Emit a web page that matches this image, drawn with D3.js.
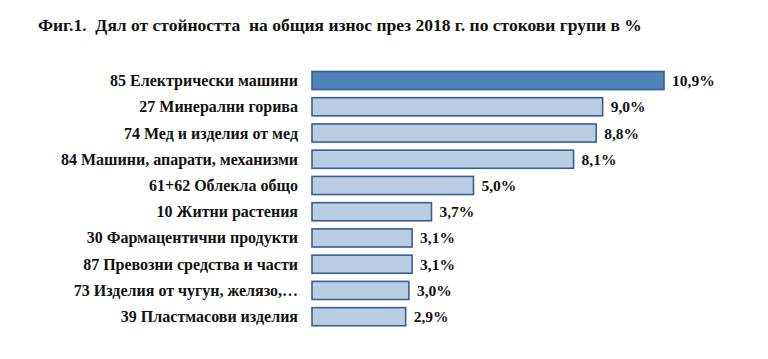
<!DOCTYPE html>
<html><head><meta charset="utf-8">
<script src="https://cdn.jsdelivr.net/npm/d3@7"></script>
<style>body{margin:0;background:#fff}svg{display:block}text{white-space:pre;font-family:"Liberation Serif","Times New Roman",serif;font-weight:bold}</style>
</head><body>
<script>
const title = "Фиг.1.  Дял от стойността  на общия износ през 2018 г. по стокови групи в %";
const categories = ["85 Електрически машини","27 Минерални горива","74 Мед и изделия от мед","84 Машини, апарати, механизми","61+62 Облекла общо","10 Житни растения","30 Фармацентични продукти","87 Превозни средства и части","73 Изделия от чугун, желязо,…","39 Пластмасови изделия"];
const values = [10.9, 9.0, 8.8, 8.1, 5.0, 3.7, 3.1, 3.1, 3.0, 2.9];
const valueLabels = ["10,9%","9,0%","8,8%","8,1%","5,0%","3,7%","3,1%","3,1%","3,0%","2,9%"];

const W = 768, H = 359;
const svg = d3.select("body").append("svg").attr("width", W).attr("height", H);

svg.append("text").attr("x", 38).attr("y", 31)
  .style("font-size", "17.5px").attr("fill", "#111").text(title);

const x0 = 312;
const x = d3.scaleLinear().domain([0, 10.9]).range([x0, 664]);
const y = d3.scaleBand().domain(categories).range([67.4, 329.8]).paddingInner(0.31).paddingOuter(0.155);

const g = svg.append("g");
g.selectAll("rect").data(categories).join("rect")
  .attr("x", x(0)).attr("y", d => y(d))
  .attr("width", (d, i) => x(values[i]) - x(0)).attr("height", y.bandwidth())
  .attr("fill", (d, i) => i === 0 ? "#4f81bd" : "#b9cde5")
  .attr("stroke", "#3a5f8c").attr("stroke-width", 1.6);

g.selectAll("text.cat").data(categories).join("text").attr("class", "cat")
  .attr("x", 298).attr("y", d => y(d) + y.bandwidth() / 2 + 5.5)
  .attr("text-anchor", "end").style("font-size", "16px").attr("fill", "#111").text(d => d);

g.selectAll("text.val").data(categories).join("text").attr("class", "val")
  .attr("x", (d, i) => x(values[i]) + 8).attr("y", d => y(d) + y.bandwidth() / 2 + 5.5)
  .style("font-size", "15.5px").attr("fill", "#111").text((d, i) => valueLabels[i]);
</script>
</body></html>
